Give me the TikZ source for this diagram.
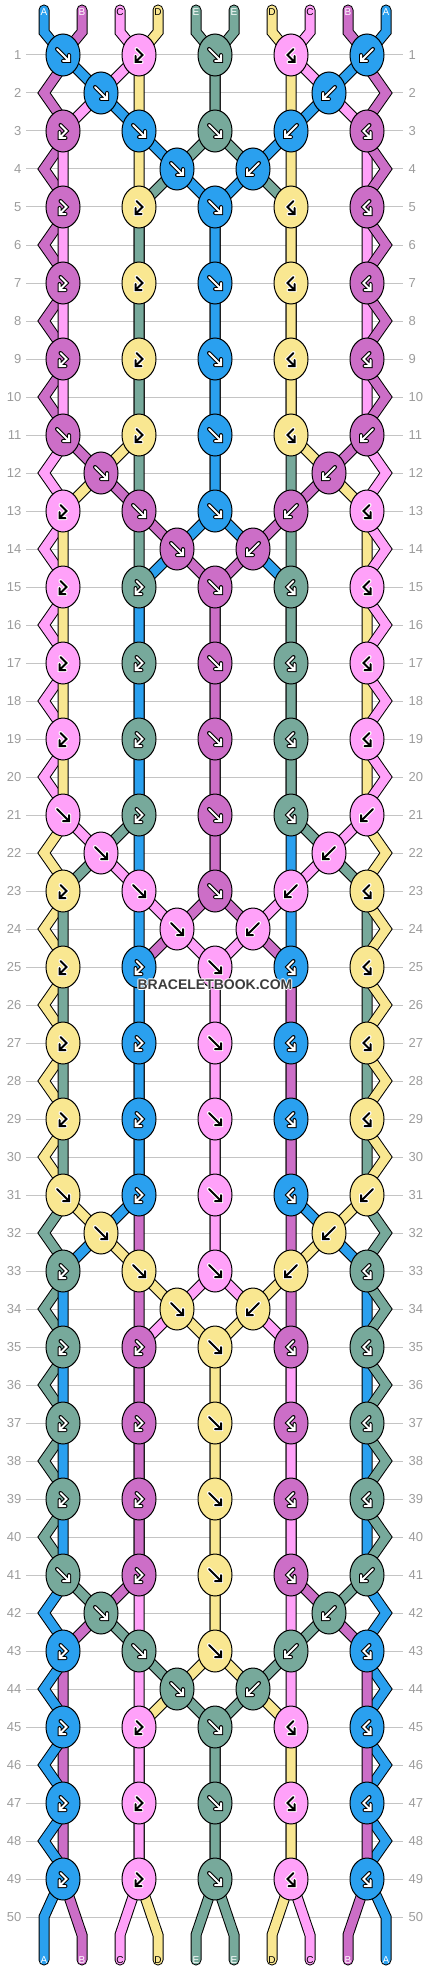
\documentclass[tikz,border=0pt]{standalone}
\usepackage{fontspec}
\setmainfont{Liberation Sans}
\usetikzlibrary{shapes.geometric}

\definecolor{bl}{HTML}{2AA0EF}
\definecolor{pu}{HTML}{CC6EC7}
\definecolor{pk}{HTML}{FFA1F9}
\definecolor{ye}{HTML}{F9E791}
\definecolor{gr}{HTML}{77A99B}
\definecolor{rulec}{HTML}{C4C4C4}
\definecolor{numc}{HTML}{9C9C9C}
\definecolor{wmarkc}{HTML}{3C3C3C}

\pgfdeclarelayer{back}
\pgfdeclarelayer{strings}
\pgfsetlayers{back,strings,main}

\def\inkc{white}
\def\haloc{black}

\tikzset{
  knot/.style={ellipse, draw=black, line width=1pt, minimum width=34pt, minimum height=42pt, inner sep=0pt},
  thread/.style={draw=black, line width=1pt, double=#1, double distance=9pt, line cap=round},
  dark/.code={\def\inkc{white}\def\haloc{black}},
  light/.code={\def\inkc{black}\def\haloc{white}},
  glyph bl/.style={dark}, glyph pu/.style={dark}, glyph gr/.style={dark},
  glyph pk/.style={light}, glyph ye/.style={light},
  glyphline/.style={draw=\inkc, line width=2pt, line cap=round,
    preaction={draw=\haloc, line width=4pt, line cap=round}},
  fw/.pic={\path[glyphline] (-6,-6) -- (6,6) (6,0) -- (6,6) -- (0,6);},
  bw/.pic={\path[glyphline] (6,-6) -- (-6,6) (-6,0) -- (-6,6) -- (0,6);},
  fb/.pic={\path[glyphline] (-2.5,-6) -- (3.5,0) -- (-3.5,7) (-3.5,1) -- (-3.5,7) -- (2.5,7);},
  bf/.pic={\path[glyphline] (2.5,-6) -- (-3.5,0) -- (3.5,7) (3.5,1) -- (3.5,7) -- (-2.5,7);},
  rownum/.style={text=numc, font=\fontsize{13}{13}\selectfont, inner sep=0pt},
  tag/.style={font=\fontsize{10}{10}\selectfont, inner sep=0pt},
  wmark/.style={font=\bfseries\fontsize{14}{14}\selectfont, text=wmarkc, inner sep=0pt},
}

\newcommand\knot[5]{%
  \node[knot, fill=#4] (k#1-#2-#3) at ({63+38*#3},{55+38*(10*#1+#2)}) {};
  \pic[glyph #4] at (k#1-#2-#3) {#5};}

\newcommand\sega[1]{-- (k#1-0-0.center) -- (k#1-1-1.center) -- (k#1-2-2.center) -- (k#1-3-3.center) -- (k#1-4-4.center) -- (k#1-6-4.center) -- (k#1-8-4.center)}
\newcommand\segb[1]{-- (k#1-0-0.center) -- (zlu#1-1) -- (zl#1-1) -- (zld#1-1) -- (k#1-2-0.center) -- (zlu#1-3) -- (zl#1-3) -- (zld#1-3) -- (k#1-4-0.center) -- (zlu#1-5) -- (zl#1-5) -- (zld#1-5) -- (k#1-6-0.center) -- (zlu#1-7) -- (zl#1-7) -- (zld#1-7) -- (k#1-8-0.center) -- (zlu#1-9) -- (zl#1-9) -- (zld#1-9)}
\newcommand\segc[1]{-- (k#1-0-2.center) -- (k#1-1-1.center) -- (k#1-2-0.center) -- (k#1-4-0.center) -- (k#1-6-0.center) -- (k#1-8-0.center)}
\newcommand\segd[1]{-- (k#1-0-2.center) -- (k#1-2-2.center) -- (k#1-4-2.center) -- (k#1-6-2.center) -- (k#1-8-2.center)}
\newcommand\sege[1]{-- (k#1-0-4.center) -- (k#1-2-4.center) -- (k#1-3-3.center) -- (k#1-4-2.center) -- (k#1-6-2.center) -- (k#1-8-2.center)}
\newcommand\segf[1]{-- (k#1-0-4.center) -- (k#1-2-4.center) -- (k#1-3-5.center) -- (k#1-4-6.center) -- (k#1-6-6.center) -- (k#1-8-6.center)}
\newcommand\segg[1]{-- (k#1-0-6.center) -- (k#1-2-6.center) -- (k#1-4-6.center) -- (k#1-6-6.center) -- (k#1-8-6.center)}
\newcommand\segh[1]{-- (k#1-0-6.center) -- (k#1-1-7.center) -- (k#1-2-8.center) -- (k#1-4-8.center) -- (k#1-6-8.center) -- (k#1-8-8.center)}
\newcommand\segi[1]{-- (k#1-0-8.center) -- (zru#1-1) -- (zr#1-1) -- (zrd#1-1) -- (k#1-2-8.center) -- (zru#1-3) -- (zr#1-3) -- (zrd#1-3) -- (k#1-4-8.center) -- (zru#1-5) -- (zr#1-5) -- (zrd#1-5) -- (k#1-6-8.center) -- (zru#1-7) -- (zr#1-7) -- (zrd#1-7) -- (k#1-8-8.center) -- (zru#1-9) -- (zr#1-9) -- (zrd#1-9)}
\newcommand\segj[1]{-- (k#1-0-8.center) -- (k#1-1-7.center) -- (k#1-2-6.center) -- (k#1-3-5.center) -- (k#1-4-4.center) -- (k#1-6-4.center) -- (k#1-8-4.center)}

\begin{document}
\begin{tikzpicture}[x=1pt, y=-1pt]
\useasboundingbox (0,0) rectangle (430,1972);

\begin{pgfonlayer}{back}
  \fill[white] (0,0) rectangle (430,1972);
  \foreach \r in {1,...,50}{
    \draw[rulec, line width=1pt] (26,{55+38*(\r-1)}) -- (403,{55+38*(\r-1)});
    \node[rownum, anchor=east] (ln\r) at (21.5,{55+38*(\r-1)}) {\r};
    \node[rownum, anchor=west] (rn\r) at (408.5,{55+38*(\r-1)}) {\r};
  }
\end{pgfonlayer}

\foreach \ca/\cb/\cc/\cd/\ce [count=\b from 0] in
    {bl/pu/pk/ye/gr, pu/pk/ye/gr/bl, pk/ye/gr/bl/pu, ye/gr/bl/pu/pk, gr/bl/pu/pk/ye}{
  \knot{\b}{0}{0}{\ca}{fw}
  \knot{\b}{0}{2}{\cc}{fb}
  \knot{\b}{0}{4}{\ce}{fw}
  \knot{\b}{0}{6}{\cc}{bf}
  \knot{\b}{0}{8}{\ca}{bw}
  \knot{\b}{1}{1}{\ca}{fw}
  \knot{\b}{1}{7}{\ca}{bw}
  \knot{\b}{2}{0}{\cb}{fb}
  \knot{\b}{2}{2}{\ca}{fw}
  \knot{\b}{2}{4}{\ce}{fw}
  \knot{\b}{2}{6}{\ca}{bw}
  \knot{\b}{2}{8}{\cb}{bf}
  \knot{\b}{3}{3}{\ca}{fw}
  \knot{\b}{3}{5}{\ca}{bw}
  \foreach \o in {4,6,8}{
    \knot{\b}{\o}{0}{\cb}{fb}
    \knot{\b}{\o}{2}{\cd}{fb}
    \knot{\b}{\o}{4}{\ca}{fw}
    \knot{\b}{\o}{6}{\cd}{bf}
    \knot{\b}{\o}{8}{\cb}{bf}
  }
}

\foreach \b in {0,...,4}{
  \foreach \o in {1,3,5,7,9}{
    \coordinate (zl\b-\o) at (44,{55+38*(10*\b+\o)});
    \coordinate (zlu\b-\o) at (58,{35+38*(10*\b+\o)});
    \coordinate (zld\b-\o) at (58,{75+38*(10*\b+\o)});
    \coordinate (zr\b-\o) at (386,{55+38*(10*\b+\o)});
    \coordinate (zru\b-\o) at (372,{35+38*(10*\b+\o)});
    \coordinate (zrd\b-\o) at (372,{75+38*(10*\b+\o)});
  }
}
\coordinate (zlu4-9) at (54,1895);
\coordinate (zld4-9) at (44,1960);
\coordinate (zru4-9) at (376,1895);
\coordinate (zrd4-9) at (386,1960);

\foreach \p in {0,...,9}{
  \coordinate (top\p) at ({44+38*\p},10);
  \coordinate (topbend\p) at ({44+38*\p},32);
  \coordinate (botbend\p) at ({44+38*\p},1935);
  \coordinate (bot\p) at ({44+38*\p},1960);
}

\begin{pgfonlayer}{strings}
  \draw[thread=bl] (top0) -- (topbend0) \sega{0} \segf{1} \segg{2} \segh{3} \segi{4};
  \draw[thread=pu] (top1) -- (topbend1) \segb{0} \sega{1} \segf{2} \segg{3} \segh{4} -- (botbend8) -- (bot8);
  \draw[thread=pk] (top2) -- (topbend2) \segc{0} \segb{1} \sega{2} \segf{3} \segg{4} -- (botbend7) -- (bot7);
  \draw[thread=ye] (top3) -- (topbend3) \segd{0} \segc{1} \segb{2} \sega{3} \segf{4} -- (botbend6) -- (bot6);
  \draw[thread=gr] (top4) -- (topbend4) \sege{0} \segd{1} \segc{2} \segb{3} \sega{4} -- (botbend5) -- (bot5);
  \draw[thread=gr] (top5) -- (topbend5) \segf{0} \segg{1} \segh{2} \segi{3} \segj{4} -- (botbend4) -- (bot4);
  \draw[thread=ye] (top6) -- (topbend6) \segg{0} \segh{1} \segi{2} \segj{3} \sege{4} -- (botbend3) -- (bot3);
  \draw[thread=pk] (top7) -- (topbend7) \segh{0} \segi{1} \segj{2} \sege{3} \segd{4} -- (botbend2) -- (bot2);
  \draw[thread=pu] (top8) -- (topbend8) \segi{0} \segj{1} \sege{2} \segd{3} \segc{4} -- (botbend1) -- (bot1);
  \draw[thread=bl] (top9) -- (topbend9) \segj{0} \sege{1} \segd{2} \segc{3} \segb{4};
\end{pgfonlayer}

\foreach \p/\l/\t in {0/A/white, 1/B/white, 2/C/black, 3/D/black, 4/E/white,
                      5/E/white, 6/D/black, 7/C/black, 8/B/white, 9/A/white}{
  \node[tag, text=\t] (tt\p) at ({44+38*\p},12) {\l};
  \node[tag, text=\t] (bt\p) at ({44+38*\p},1960.5) {\l};
}

\foreach \dx/\dy [count=\i] in {-1/0, 1/0, 0/-1, 0/1}
  \node[wmark, text=white] (halo\i) at (215+\dx,985+\dy) {BRACELETBOOK.COM};
\node[wmark] (wm) at (215,985) {BRACELETBOOK.COM};

\end{tikzpicture}
\end{document}
